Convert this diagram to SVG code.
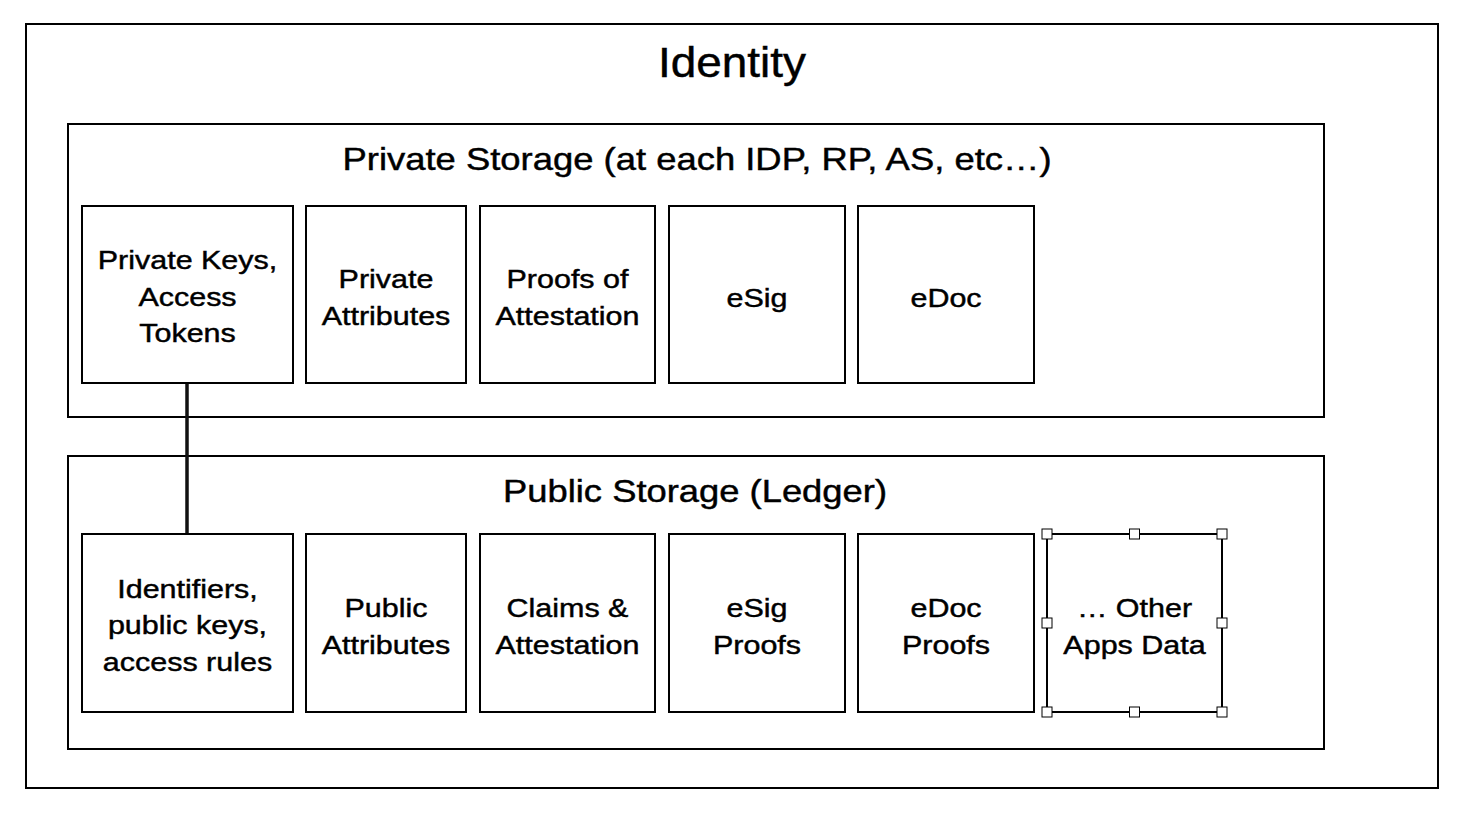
<svg xmlns="http://www.w3.org/2000/svg" width="1468" height="818" viewBox="0 0 1468 818">
<style>
  .box { fill: #fff; stroke: #000; stroke-width: 2; }
  .t { font-family: "Liberation Sans", Arial, sans-serif; fill: #000; stroke: #000; stroke-width: 0.45; text-anchor: middle; }
  .title { font-size: 43px; }
  .sec { font-size: 32px; }
  .lbl { font-size: 26.5px; }
  .conn { stroke: #111; stroke-width: 3.5; fill: none; }
  .handle { fill: #fff; stroke: #000; stroke-width: 1; }
</style>
<rect width="1468" height="818" fill="#fff"/>

<g id="identity">
  <rect class="box" x="26" y="24" width="1412" height="764"/>
  <text class="t title" x="732" y="77" textLength="148" lengthAdjust="spacingAndGlyphs">Identity</text>
</g>

<g id="private-storage">
  <rect class="box" x="68" y="124" width="1256" height="293"/>
  <text class="t sec" x="697" y="170" textLength="709" lengthAdjust="spacingAndGlyphs">Private Storage (at each IDP, RP, AS, etc…)</text>
</g>

<g id="public-storage">
  <rect class="box" x="68" y="456" width="1256" height="293"/>
  <text class="t sec" x="695" y="502" textLength="384" lengthAdjust="spacingAndGlyphs">Public Storage (Ledger)</text>
</g>

<g id="connectors">
  <line class="conn" x1="187" y1="384" x2="187" y2="533"/>
</g>

<g id="private-keys">
  <rect class="box" x="82" y="206" width="211" height="177"/>
  <text class="t lbl" transform="translate(187.5,269) scale(1.15,1)">Private Keys,</text>
  <text class="t lbl" transform="translate(187.5,305.5) scale(1.15,1)">Access</text>
  <text class="t lbl" transform="translate(187.5,342) scale(1.15,1)">Tokens</text>
</g>
<g id="private-attributes">
  <rect class="box" x="306" y="206" width="160" height="177"/>
  <text class="t lbl" transform="translate(386,288) scale(1.15,1)">Private</text>
  <text class="t lbl" transform="translate(386,325) scale(1.15,1)">Attributes</text>
</g>
<g id="proofs-of-attestation">
  <rect class="box" x="480" y="206" width="175" height="177"/>
  <text class="t lbl" transform="translate(567.5,288) scale(1.15,1)">Proofs of</text>
  <text class="t lbl" transform="translate(567.5,325) scale(1.15,1)">Attestation</text>
</g>
<g id="esig">
  <rect class="box" x="669" y="206" width="176" height="177"/>
  <text class="t lbl" transform="translate(757,307) scale(1.15,1)">eSig</text>
</g>
<g id="edoc">
  <rect class="box" x="858" y="206" width="176" height="177"/>
  <text class="t lbl" transform="translate(946,307) scale(1.15,1)">eDoc</text>
</g>

<g id="identifiers">
  <rect class="box" x="82" y="534" width="211" height="178"/>
  <text class="t lbl" transform="translate(187.5,597.5) scale(1.15,1)">Identifiers,</text>
  <text class="t lbl" transform="translate(187.5,634) scale(1.15,1)">public keys,</text>
  <text class="t lbl" transform="translate(187.5,670.5) scale(1.15,1)">access rules</text>
</g>
<g id="public-attributes">
  <rect class="box" x="306" y="534" width="160" height="178"/>
  <text class="t lbl" transform="translate(386,616.5) scale(1.15,1)">Public</text>
  <text class="t lbl" transform="translate(386,653.5) scale(1.15,1)">Attributes</text>
</g>
<g id="claims-attestation">
  <rect class="box" x="480" y="534" width="175" height="178"/>
  <text class="t lbl" transform="translate(567.5,616.5) scale(1.15,1)">Claims &amp;</text>
  <text class="t lbl" transform="translate(567.5,653.5) scale(1.15,1)">Attestation</text>
</g>
<g id="esig-proofs">
  <rect class="box" x="669" y="534" width="176" height="178"/>
  <text class="t lbl" transform="translate(757,616.5) scale(1.15,1)">eSig</text>
  <text class="t lbl" transform="translate(757,653.5) scale(1.15,1)">Proofs</text>
</g>
<g id="edoc-proofs">
  <rect class="box" x="858" y="534" width="176" height="178"/>
  <text class="t lbl" transform="translate(946,616.5) scale(1.15,1)">eDoc</text>
  <text class="t lbl" transform="translate(946,653.5) scale(1.15,1)">Proofs</text>
</g>
<g id="other-apps-data">
  <rect class="box" x="1047" y="534" width="175" height="178"/>
  <text class="t lbl" transform="translate(1134.5,616.5) scale(1.15,1)">… Other</text>
  <text class="t lbl" transform="translate(1134.5,653.5) scale(1.15,1)">Apps Data</text>
  <g id="selection-handles">
    <rect class="handle" x="1042" y="529" width="10" height="10"/>
    <rect class="handle" x="1129.5" y="529" width="10" height="10"/>
    <rect class="handle" x="1217" y="529" width="10" height="10"/>
    <rect class="handle" x="1042" y="618" width="10" height="10"/>
    <rect class="handle" x="1217" y="618" width="10" height="10"/>
    <rect class="handle" x="1042" y="707" width="10" height="10"/>
    <rect class="handle" x="1129.5" y="707" width="10" height="10"/>
    <rect class="handle" x="1217" y="707" width="10" height="10"/>
  </g>
</g>
</svg>
